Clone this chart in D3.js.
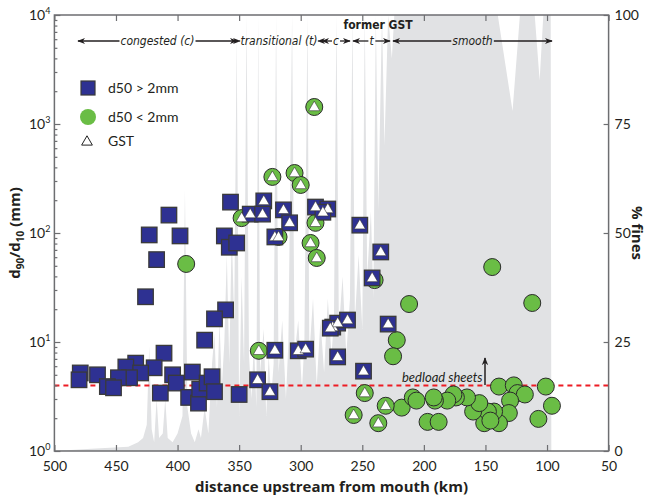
<!DOCTYPE html>
<html><head><meta charset="utf-8">
<script src="https://cdn.jsdelivr.net/npm/d3@7"></script>
<style>body{margin:0;background:#fff}</style>
</head><body><svg id="c" width="650" height="495"></svg>
<script>
// ---------- data ----------
const xTicks = [500,450,400,350,300,250,200,150,100,50];
const yTicks = [1,10,100,1000,10000];
const fTicks = [0,25,50,75,100];

// % fines profile (km, %)
const finesKm  = [500,470,440,432,428,425,423,421,419,417,415,412,410,408,404,400,396,394,392,389,386,383,381,378,375,372,370,368,366,364,362,360,358,356,354,352,350,348,346,344,342,340,338,336,334.5,333,330,328,326,324,322,320,318,315,312,310,307,305,302,299,297,294.5,293,290,287,284,281,278,275,273,271,269,266,263,260,258,256,253,250,248,246,243,241,239,237,234,232,229,226,224,140,128,122,110,106,103,97,96.5];
const finesPct = [0,0.5,1,2,3,6,24,5,2,12,3,4,12,3,2,4,8,60,10,4,2,5,3,10,4,20,27,10,30,15,25,45,20,50,30,95,8,40,20,100,22,12,25,10,100,18,28,8,22,12,20,100,18,30,12,25,100,22,30,14,25,100,22,35,15,30,18,35,22,30,100,28,40,22,35,100,30,45,28,100,40,55,35,100,55,100,70,100,90,100,100,78,100,100,85,100,100,0];

// d50 > 2 mm (squares)
const coarseKm  = [407,423,398,417,426,362,358,352,357,361,370,378,411,419,434,442,430,439,448,479,480,465,457,452,404,401,388,414,391,383,382,376,372,370,350,
                   330,341,331,314,309,288,278,282,321,252,235,242,274,270,262,276,229,270,249,321,302,296,335,325];
const coarseVal = [146,96,94,57,26,94,74,81,192,19.7,16.3,10.4,7.9,5.8,6.4,5.9,5.2,4.7,4.7,5.2,4.5,5.0,3.9,3.8,5.0,4.2,5.3,3.4,3.1,2.75,3.7,4.2,4.8,3.5,3.3,
                   197,149,149,163,124,173,166,155,92,118,67,38.7,13.7,14.9,15.9,13.4,14.6,7.3,5.4,8.4,8.3,8.6,4.5,3.5];
const coarseGST = [0,0,0,0,0,0,0,0,0,0,0,0,0,0,0,0,0,0,0,0,0,0,0,0,0,0,0,0,0,0,0,0,0,0,0,
                   1,1,1,1,1,1,1,1,1,1,1,1,1,1,1,1,1,1,1,1,1,1,1,1];

// d50 < 2 mm (circles)
const fineKm  = [393,212,222,225,218,209,206,144.5,112,101,139,127,124,118,130,96,107,131,139,143,151,148,160,155,165,174,176,181,191,192,197,188,146,240,
                 289,323,305,300,348,288,318,292,287,334,248,231,257,237];
const fineVal = [52,22.3,10.4,7.4,2.5,3.1,2.9,48.7,22.8,3.9,3.9,4.0,3.4,3.3,2.9,2.6,1.97,2.23,1.8,2.3,1.8,2.3,2.3,2.75,3.1,3.1,3.3,2.9,2.9,3.1,1.85,1.85,1.9,37,
                 1432,327,355,276,137,124,92,81,59,8.3,3.4,2.6,2.14,1.8];
const fineGST = [0,0,0,0,0,0,0,0,0,0,0,0,0,0,0,0,0,0,0,0,0,0,0,0,0,0,0,0,0,0,0,0,0,0,
                 1,1,1,1,1,1,1,1,1,1,1,1,1,1];

const bedloadThreshold = 4;

// ---------- layout ----------
const svg = d3.select("#c");
const L = 54.4, R = 608.6, T = 15, B = 451;
const x = d3.scaleLinear().domain([500,50]).range([L,R]);
const y = d3.scaleLog().domain([1,10000]).range([B,T]);
const yf = d3.scaleLinear().domain([0,100]).range([B,T]);

const frameCol = "#6d6e71";
const tickFont = "Lato, 'Open Sans', sans-serif";
const annFont = "'Liberation Sans Narrow','DejaVu Sans Condensed', sans-serif";

const defs = svg.append("defs");
defs.append("marker").attr("id","ah").attr("viewBox","0 0 10 10").attr("refX",9).attr("refY",5)
  .attr("markerWidth",8).attr("markerHeight",8).attr("orient","auto-start-reverse").attr("markerUnits","userSpaceOnUse")
  .append("path").attr("d","M0,1 L10,5 L0,9 L3,5 Z").attr("fill","#231f20");

// fines area
const fines = finesKm.map((k,i)=>({k, p: finesPct[i]}));
svg.append("path").datum(fines)
  .attr("fill","#e1e2e4")
  .attr("d", d3.area().x(d=>x(d.k)).y0(yf(0)).y1(d=>yf(d.p)));

// threshold line
svg.append("line")
  .attr("x1", L).attr("x2", R)
  .attr("y1", y(bedloadThreshold)).attr("y2", y(bedloadThreshold))
  .attr("stroke","#ed1c24").attr("stroke-width",2).attr("stroke-dasharray","5,4");

// axes
function styleAxis(g){
  g.select(".domain").remove();
  g.selectAll(".tick line").attr("stroke",frameCol).attr("stroke-width",1.2);
  g.selectAll("text").attr("fill","#231f20").attr("font-family",tickFont).attr("font-size",14);
}
svg.append("g").attr("transform",`translate(0,${B})`)
  .call(d3.axisBottom(x).tickValues(xTicks).tickSize(-6).tickPadding(10).tickFormat(d3.format("d")))
  .call(styleAxis);
svg.append("g").attr("transform",`translate(0,${T})`)
  .call(d3.axisTop(x).tickValues(xTicks).tickSize(-6).tickFormat(""))
  .call(styleAxis);
const minor = [];
for (let e=0;e<4;e++) for (let m=2;m<=9;m++) minor.push(m*Math.pow(10,e));
svg.append("g").attr("transform",`translate(${L},0)`)
  .call(d3.axisLeft(y).tickValues(minor).tickSize(-3).tickFormat(""))
  .call(styleAxis);
svg.append("g").attr("transform",`translate(${L},0)`)
  .call(d3.axisLeft(y).tickValues(yTicks).tickSize(-6).tickFormat(""))
  .call(styleAxis);
yTicks.forEach(v=>{
  const t = svg.append("text").attr("x", L-4).attr("y", y(v)+5)
    .attr("text-anchor","end").attr("font-family",tickFont).attr("font-size",14).attr("fill","#231f20");
  t.append("tspan").text("10");
  t.append("tspan").attr("font-size",9).attr("dy",-6).text(Math.round(Math.log10(v)));
});
svg.append("g").attr("transform",`translate(${R},0)`)
  .call(d3.axisRight(yf).tickValues(fTicks).tickSize(-5).tickPadding(6).tickFormat(d3.format("d")))
  .call(styleAxis);

svg.append("rect").attr("x",L).attr("y",T).attr("width",R-L).attr("height",B-T)
  .attr("fill","none").attr("stroke",frameCol).attr("stroke-width",1.5);

// markers
const squareCol = "#2e3192", circleCol = "#6abd45", strokeCol = "#2b2b2b";
const sq = 15.5, cr = 8.5;
const coarse = coarseKm.map((k,i)=>({k, v: coarseVal[i], g: coarseGST[i]}));
const fine = fineKm.map((k,i)=>({k, v: fineVal[i], g: fineGST[i]}));

svg.append("g").selectAll("circle").data(fine).join("circle")
  .attr("cx",d=>x(d.k)).attr("cy",d=>y(d.v)).attr("r",cr)
  .attr("fill",circleCol).attr("stroke",strokeCol).attr("stroke-width",1);
svg.append("g").selectAll("rect").data(coarse).join("rect")
  .attr("x",d=>x(d.k)-sq/2).attr("y",d=>y(d.v)-sq/2).attr("width",sq).attr("height",sq)
  .attr("fill",squareCol).attr("stroke","#3a3a3a").attr("stroke-width",1.3);

const tri = d3.symbol().type(d3.symbolTriangle).size(54);
const gst = coarse.filter(d=>d.g).concat(fine.filter(d=>d.g));
svg.append("g").selectAll("path").data(gst).join("path")
  .attr("d",tri).attr("transform",d=>`translate(${x(d.k)},${y(d.v)+0.5})`)
  .attr("fill","#fff").attr("stroke","#333").attr("stroke-width",0.6);

// legend
const lg = svg.append("g");
lg.append("rect").attr("x",81).attr("y",81).attr("width",14).attr("height",14)
  .attr("fill",squareCol).attr("stroke","#3a3a3a").attr("stroke-width",1.2);
lg.append("circle").attr("cx",88).attr("cy",117).attr("r",8).attr("fill",circleCol);
lg.append("path").attr("d",d3.symbol().type(d3.symbolTriangle).size(50))
  .attr("transform","translate(87,142)").attr("fill","#fff").attr("stroke","#222").attr("stroke-width",1);
[["d50 > 2mm",93],["d50 < 2mm",122],["GST",146]].forEach(([s,yy])=>{
  lg.append("text").attr("x",108).attr("y",yy).text(s)
    .attr("font-family",tickFont).attr("font-size",14).attr("fill","#231f20");
});

// top annotations: arrow lines broken around labels
const zoneA = [78,240,322,353,393];
const zoneB = [237,318,350,390,552];
const zoneLabels = ["congested (c)","transitional (t)","c","t","smooth"];
const ann = svg.append("g");
zoneLabels.forEach((lab,i)=>{
  const a = zoneA[i], b = zoneB[i], m = (a+b)/2;
  const t = ann.append("text").attr("x",m).attr("y",45).attr("text-anchor","middle")
    .attr("font-family",annFont).attr("font-style","italic").attr("font-size",12).attr("fill","#231f20").text(lab);
  const bb = t.node().getBBox();
  ann.append("line").attr("x1",bb.x-1).attr("x2",a).attr("y1",41).attr("y2",41)
    .attr("stroke","#231f20").attr("stroke-width",1.3).attr("marker-end","url(#ah)");
  ann.append("line").attr("x1",bb.x+bb.width+1).attr("x2",b).attr("y1",41).attr("y2",41)
    .attr("stroke","#231f20").attr("stroke-width",1.3).attr("marker-end","url(#ah)");
});
svg.append("text").attr("x",378).attr("y",29).attr("text-anchor","middle")
  .attr("font-family",annFont).attr("font-weight","bold").attr("font-size",12).attr("fill","#231f20").text("former GST");

// bedload sheets annotation
svg.append("text").attr("x",402).attr("y",382).attr("font-family",tickFont).attr("font-style","italic")
  .attr("font-size",13).attr("fill","#231f20").text("bedload sheets");
svg.append("line").attr("x1",485).attr("x2",485).attr("y1",385).attr("y2",358)
  .attr("stroke","#231f20").attr("stroke-width",1.5).attr("marker-end","url(#ah)");

// axis titles
svg.append("text").attr("x",(L+R)/2).attr("y",492).attr("text-anchor","middle")
  .attr("font-family","'Open Sans', sans-serif").attr("font-weight","bold").attr("font-size",15)
  .attr("fill","#231f20").text("distance upstream from mouth (km)");
const yl = svg.append("text").attr("transform","translate(20,233) rotate(-90)").attr("text-anchor","middle")
  .attr("font-family","'Open Sans', sans-serif").attr("font-weight","bold").attr("font-size",15).attr("fill","#231f20");
yl.append("tspan").text("d");
yl.append("tspan").attr("font-size",10).attr("dy",4).text("90");
yl.append("tspan").attr("dy",-4).text("/d");
yl.append("tspan").attr("font-size",10).attr("dy",4).text("10");
yl.append("tspan").attr("dy",-4).text(" (mm)");
svg.append("text").attr("transform","translate(632,233) rotate(90)").attr("text-anchor","middle")
  .attr("font-family","'Open Sans', sans-serif").attr("font-weight","bold").attr("font-size",15).attr("fill","#231f20")
  .text("% fines");
</script>
</body></html>
